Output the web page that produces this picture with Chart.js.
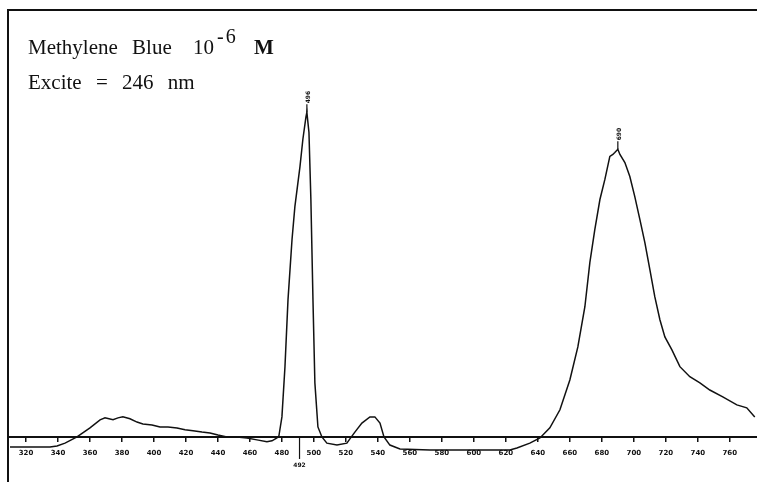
<!DOCTYPE html>
<html>
<head>
<meta charset="utf-8">
<script src="https://cdn.jsdelivr.net/npm/chart.js@4"></script>
<style>
  body { margin: 0; background: #fff; }
  #wrap { position: relative; width: 757px; height: 482px; }
  #frame { position: absolute; left: 7px; top: 9px; right: 0; bottom: 0; border-top: 2px solid #111; border-left: 2px solid #111; }
  .title { position: absolute; left: 28px; font-family: "Liberation Serif", "Times New Roman", serif; font-size: 21px; line-height: 21px; color: #111; word-spacing: 9px; white-space: nowrap; }
  .title sup { font-size: 20px; position: relative; top: -3px; letter-spacing: 2px; margin-left: 3px; }
</style>
</head>
<body>
<div id="wrap">
  <canvas id="spectrum" width="757" height="482"></canvas>
  <div id="frame"></div>
  <div class="title" style="top:29px">Methylene Blue <span style="margin-left:7px">10</span><sup>-6</sup> <b style="margin-left:2px">M</b></div>
  <div class="title" style="top:72px">Excite = 246 nm</div>
</div>
<script>
// wavelength (nm) and relative emission intensity
const wavelength = [310, 322.5, 335, 339.4, 344.4, 351.9, 360, 366.3, 369.4, 374.4, 377.5, 380.6, 385, 389.4,
  393.1, 398.8, 403.8, 408.8, 414.4, 419.4, 424.4, 430, 435, 440, 445.6, 451.9, 458.1, 464.4, 470.6, 473.8,
  476.9, 478.1, 480, 481.9, 483.8, 486.3, 488.1, 491.3, 493.1, 495, 495.6, 496.9, 498.1, 499.4, 500.6, 502.5,
  505, 508.1, 514.4, 520.6, 522.5, 525.6, 530, 535, 538.1, 541.3, 543.8, 547.5, 553.8, 572.5, 593.1, 614.4,
  622.5, 626.9, 635, 641.3, 647.5, 653.8, 660, 665, 669.4, 672.5, 675.6, 678.8, 681.9, 685, 686.9, 688.1,
  690, 691.3, 694.4, 697.5, 700.6, 703.8, 706.9, 710, 713.1, 716.3, 719.4, 723.8, 728.8, 735, 741.3, 747.5,
  755.6, 764.4, 770.6, 775.6];
const intensity = [-3.1, -3.1, -3.1, -2.8, -1.9, 0, 2.8, 5.3, 5.9, 5.3, 5.9, 6.2, 5.6, 4.6,
  4.0, 3.7, 3.1, 3.1, 2.8, 2.2, 1.9, 1.5, 1.2, 0.6, 0, 0, -0.3, -0.9, -1.5, -1.2,
  -0.3, 0.3, 6.2, 21.7, 42.4, 60.9, 71.1, 83.5, 91.9, 98.7, 100.2, 94.0, 73.3, 42.4, 16.7, 3.1,
  0, -1.9, -2.5, -1.9, -0.6, 1.5, 4.3, 6.2, 6.2, 4.3, 0, -2.5, -3.7, -4.0, -4.0, -4.0,
  -4.0, -3.4, -1.9, -0.3, 2.8, 8.4, 17.6, 27.8, 40.2, 53.8, 64.0, 73.3, 79.5, 86.6, 87.2, 87.8,
  88.8, 87.2, 84.7, 80.4, 74.2, 67.1, 60.0, 51.7, 43.3, 36.2, 30.9, 26.9, 21.7, 18.6, 16.7, 14.5,
  12.4, 9.9, 9.0, 6.2];
const tickValues = [320, 340, 360, 380, 400, 420, 440, 460, 480, 500, 520, 540, 560, 580, 600,
  620, 640, 660, 680, 700, 720, 740, 760];
// peak markers printed by the instrument
const peakWavelength = [495.6, 690];
const peakIntensity = [100.2, 88.8];
const peakLabels = ['496', '690'];
const scatterMark = 491;
const scatterLabel = '492';

const markers = {
  id: 'markers',
  afterDatasetsDraw(chart) {
    const ctx = chart.ctx, xs = chart.scales.x, ys = chart.scales.y;
    ctx.save();
    ctx.strokeStyle = '#111';
    ctx.fillStyle = '#111';
    ctx.lineWidth = 1.2;
    ctx.font = 'bold 6px "DejaVu Sans"';
    peakWavelength.forEach((w, i) => {
      const px = xs.getPixelForValue(w), py = ys.getPixelForValue(peakIntensity[i]);
      ctx.beginPath();
      ctx.moveTo(px, py);
      ctx.lineTo(px, py - 8);
      ctx.stroke();
      ctx.save();
      ctx.translate(px + 2, py - 9);
      ctx.rotate(-Math.PI / 2);
      ctx.textAlign = 'left';
      ctx.textBaseline = 'middle';
      ctx.fillText(peakLabels[i], 0, 0);
      ctx.restore();
    });
    const mx = xs.getPixelForValue(scatterMark), my = ys.getPixelForValue(0);
    ctx.beginPath();
    ctx.moveTo(mx, my);
    ctx.lineTo(mx, my + 22);
    ctx.stroke();
    ctx.textAlign = 'center';
    ctx.textBaseline = 'top';
    ctx.fillText(scatterLabel, mx, my + 25);
    ctx.restore();
  }
};

new Chart(document.getElementById('spectrum'), {
  type: 'line',
  data: {
    datasets: [{
      data: wavelength.map((w, i) => ({ x: w, y: intensity[i] })),
      borderColor: '#111',
      borderWidth: 1.5,
      pointRadius: 0,
      tension: 0,
      fill: false
    }]
  },
  options: {
    responsive: false,
    animation: false,
    layout: { padding: { left: 10, top: 10, right: 0, bottom: 0 } },
    plugins: { legend: { display: false }, tooltip: { enabled: false } },
    scales: {
      x: {
        type: 'linear',
        min: 310,
        max: 777,
        position: { y: 0 },
        border: { color: '#111', width: 2 },
        grid: { drawOnChartArea: false, drawTicks: true, tickLength: 4, color: '#111', lineWidth: 1.5 },
        ticks: { color: '#111', font: { size: 7, weight: 'bold', family: 'DejaVu Sans' }, padding: 8, autoSkip: false, maxRotation: 0 },
        afterBuildTicks: s => { s.ticks = tickValues.map(v => ({ value: v })); }
      },
      y: {
        display: false,
        min: -13.9,
        max: 131.8
      }
    }
  },
  plugins: [markers]
});
</script>
</body>
</html>
